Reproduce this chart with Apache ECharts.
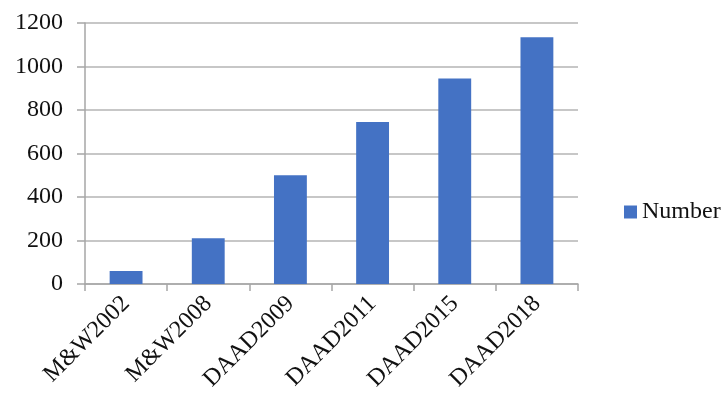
<!DOCTYPE html>
<html>
<head>
<meta charset="utf-8">
<script src="https://cdn.jsdelivr.net/npm/echarts@6/dist/echarts.min.js"></script>
<style>
  html, body { margin: 0; padding: 0; background: #fff; }
  #main { width: 727px; height: 400px; }
</style>
</head>
<body>
<div id="main"></div>
<script>
var categories = ['M&W2002', 'M&W2008', 'DAAD2009', 'DAAD2011', 'DAAD2015', 'DAAD2018'];
var numbers = [60, 210, 500, 745, 945, 1135];
var seriesName = 'Number';

var myChart = echarts.init(document.getElementById('main'));
var font = '"Liberation Serif", "Times New Roman", serif';

var option = {
    animation: false,
    grid: { left: 85, top: 23, right: 149, bottom: 116, containLabel: false },
    legend: {
        data: [seriesName],
        left: 619, top: 195,
        icon: 'rect',
        itemWidth: 13, itemHeight: 13,
        itemGap: 6,
        textStyle: { fontFamily: font, fontSize: 24, color: '#111' }
    },
    xAxis: {
        type: 'category',
        data: categories,
        axisLine: { lineStyle: { color: '#a6a6a6', width: 1.5 } },
        axisTick: { show: true, length: 7, lineStyle: { color: '#a6a6a6', width: 1.5 } },
        axisLabel: {
            rotate: 45, margin: 16, interval: 0,
            fontFamily: font, fontSize: 24, color: '#111'
        }
    },
    yAxis: {
        type: 'value',
        min: 0, max: 1200, interval: 200,
        axisLine: { show: true, lineStyle: { color: '#a6a6a6', width: 1.5 } },
        axisTick: { show: true, length: 8, lineStyle: { color: '#a6a6a6', width: 1.5 } },
        splitLine: { lineStyle: { color: '#b4b4b4', width: 1.5 } },
        axisLabel: {
            margin: 22, fontFamily: font, fontSize: 24, color: '#111',
            formatter: function (v) { return String(v); }
        }
    },
    series: [{
        name: seriesName,
        type: 'bar',
        data: numbers,
        barWidth: '40%',
        itemStyle: { color: '#4472c4' }
    }]
};

option && myChart.setOption(option);
</script>
</body>
</html>
